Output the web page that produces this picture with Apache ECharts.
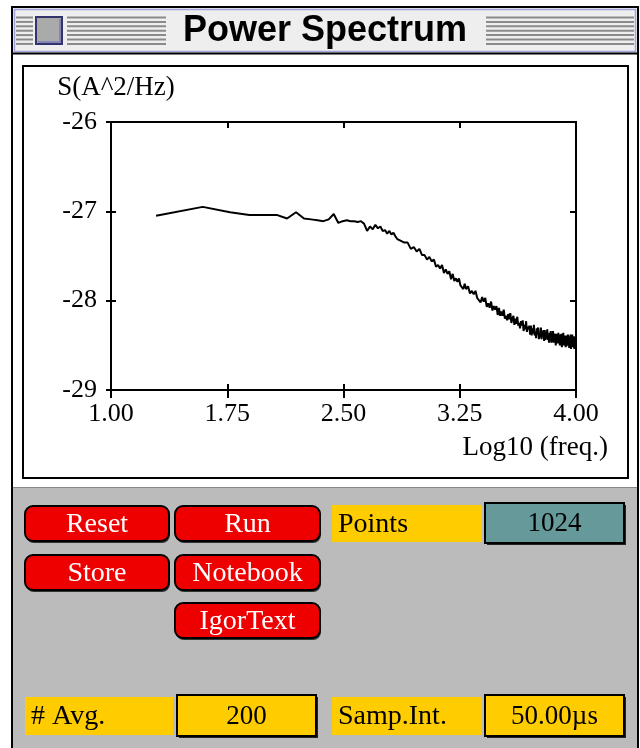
<!DOCTYPE html>
<html>
<head>
<meta charset="utf-8">
<script src="https://cdn.jsdelivr.net/npm/echarts@6/dist/echarts.min.js"></script>
<style>
  html, body { margin: 0; padding: 0; background: #fff; }
  #chart { width: 640px; height: 748px; }
</style>
</head>
<body>
<div id="chart"></div>
<script>
// ---- acquisition settings (shown in the panel) ----
const nPoints = 1024;
const sampInt = 50e-6;           // seconds
const nAvg = 200;

// ---- spectrum data: FFT bin index and log10 power ----
const lowBins = [1,2,3,4,5,6,7,8,9,10,11,12,13,14,15,16,17,18,19,20,
  21,22,23,24,25,26,27,28,29,30,31,32,33,34,35,36,37,38,39,40];
const lowPower = [-27.05,-26.95,-27.01,-27.04,-27.04,-27.04,-27.08,-27.01,-27.08,-27.09,
  -27.10,-27.11,-27.09,-27.03,-27.13,-27.11,-27.10,-27.11,-27.11,-27.12,
  -27.11,-27.14,-27.22,-27.17,-27.20,-27.15,-27.19,-27.17,-27.22,-27.21,
  -27.25,-27.22,-27.26,-27.24,-27.28,-27.31,-27.29,-27.33,-27.31,-27.35];

const midBins = [42,44,46,48,50,52,54,56,58,60,62,64,66,68,70,72,74,76,78,80,
  82,84,86,88,90,92,94,96,98,100];
const midPower = [-27.35,-27.42,-27.40,-27.45,-27.42,-27.49,-27.49,-27.54,-27.51,-27.56,
  -27.54,-27.62,-27.60,-27.64,-27.60,-27.69,-27.65,-27.70,-27.67,-27.76,
  -27.70,-27.78,-27.75,-27.79,-27.75,-27.83,-27.81,-27.87,-27.81,-27.87];

const upperBins = [103,106,109,112,115,118,121,124,127,130,133,136,139,142,145,148,151,154,
  157,160,163,166,169,172,175,178,181,184,187,190,193,196,199];
const upperPower = [-27.84,-27.92,-27.89,-27.93,-27.89,-27.97,-27.96,-28.02,-27.96,-28.01,
  -27.97,-28.07,-28.03,-28.08,-28.01,-28.11,-28.06,-28.10,-28.06,-28.16,
  -28.08,-28.17,-28.12,-28.17,-28.10,-28.20,-28.17,-28.22,-28.15,-28.21,
  -28.14,-28.25,-28.20];

const highBins = [202,205,208,211,214,217,220,223,226,229,232,235,238,241,244,247,250,253,256,259,
  262,265,268,271,274,277,280,283,286,289,292,295,298,301,304,307,310,313,316,319,
  322,325,328,331,334,337,340,343,346,349,352,355,358,361,364,367,370,373,376,379,
  382,385,388,391,394,397,400,403,406,409,412,415,418,421,424,427,430,433,436,439,
  442,445,448,451,454,457,460,463,466,469,472,475,478,481,484,487,490,493,496,499,
  502,505,508,511,512];
const highPower = [-28.17,-28.27,-28.20,-28.26,-28.18,-28.28,-28.25,-28.31,-28.23,-28.28,
  -28.22,-28.34,-28.27,-28.32,-28.23,-28.35,-28.29,-28.32,-28.28,-28.38,
  -28.28,-28.39,-28.31,-28.37,-28.27,-28.39,-28.35,-28.42,-28.31,-28.38,
  -28.30,-28.43,-28.36,-28.41,-28.30,-28.43,-28.34,-28.39,-28.33,-28.45,
  -28.33,-28.44,-28.37,-28.42,-28.32,-28.44,-28.39,-28.47,-28.36,-28.42,
  -28.34,-28.47,-28.40,-28.45,-28.34,-28.47,-28.38,-28.42,-28.37,-28.50,
  -28.37,-28.48,-28.40,-28.45,-28.36,-28.48,-28.43,-28.50,-28.38,-28.45,
  -28.37,-28.52,-28.43,-28.48,-28.36,-28.50,-28.41,-28.45,-28.39,-28.52,
  -28.39,-28.51,-28.43,-28.48,-28.38,-28.50,-28.45,-28.53,-28.40,-28.47,
  -28.38,-28.54,-28.45,-28.51,-28.38,-28.52,-28.43,-28.48,-28.40,-28.54,
  -28.41,-28.54,-28.45,-28.51,-28.44];

// ---- axes ----
const xTicks = [1.00, 1.75, 2.50, 3.25, 4.00];
const yTicks = [-29, -28, -27, -26];
const xTitle = 'Log10 (freq.)';
const yTitle = 'S(A^2/Hz)';
const windowTitle = 'Power Spectrum';

// ---- panel texts ----
const buttonLabels = ['Reset', 'Run', 'Store', 'Notebook', 'IgorText'];
const fieldLabels = ['Points', '# Avg.', 'Samp.Int.'];
const fieldValues = [String(nPoints), String(nAvg), (sampInt * 1e6).toFixed(2) + '\u00B5s'];

// build series pairs
const binFreq = (k) => Math.log10(k / (nPoints * sampInt));
const allBins = lowBins.concat(midBins, upperBins, highBins);
const allPower = lowPower.concat(midPower, upperPower, highPower);
const spectrum = allBins.map((k, i) => [binFreq(k), allPower[i]]);

const serif = "'Liberation Serif', 'DejaVu Serif', serif";
const black = '#000';

// ---- window chrome (graphic) ----
const g = [];
const Z = -10;
function rect(x, y, w, h, style, r) {
  g.push({ type: 'rect', z: Z, silent: true, shape: { x, y, width: w, height: h, r: r || 0 }, style });
}
function line(x1, y1, x2, y2, stroke, lw) {
  g.push({ type: 'line', z: Z, silent: true, shape: { x1, y1, x2, y2 }, style: { stroke, lineWidth: lw } });
}
function text(t, x, y, font, fill, align) {
  g.push({ type: 'text', z: Z, silent: true, style: { text: t, x, y, font, fill, align: align || 'center', verticalAlign: 'middle' } });
}
// title bar
rect(13, 8, 624, 45, { fill: '#eeeeee' });
rect(14.5, 9.5, 621, 42, { fill: 'none', stroke: '#a3a3dc', lineWidth: 1.5 });
for (let i = 0; i < 7; i++) {
  const yy = 17.5 + i * 4.4;
  line(16, yy, 33, yy, '#8a8a8a', 2);
  line(67, yy, 166, yy, '#8a8a8a', 2);
  line(486, yy, 634, yy, '#8a8a8a', 2);
}
rect(36, 17, 26, 27, { fill: '#aaaaaa', stroke: '#33336e', lineWidth: 2 });
line(38, 42, 61, 42, '#7a7ab8', 1.5);
line(60, 19, 60, 42, '#7a7ab8', 1.5);
text(windowTitle, 325, 31, "bold 36px 'Liberation Sans', Arial, sans-serif", black);
line(12, 53.5, 638, 53.5, black, 2);
// content + panel
rect(13, 55, 624, 432, { fill: '#ffffff' });
rect(13, 487, 624, 263, { fill: '#bbbbbb' });
line(13, 487.5, 637, 487.5, '#888888', 1);
rect(23, 66, 605, 412, { fill: 'none', stroke: black, lineWidth: 2 });
// outer window border
rect(12, 7, 626, 760, { fill: 'none', stroke: black, lineWidth: 2 });

// buttons
const btnFont = "28px " + serif;
const btnBoxes = [[25, 506, 144, 35], [175, 506, 145, 35], [25, 555, 144, 35], [175, 555, 145, 35], [175, 603, 145, 35]];
buttonLabels.forEach((lab, i) => {
  const [x, y, w, h] = btnBoxes[i];
  rect(x + 1, y + 2, w, h, { fill: '#333333' }, 8);
  rect(x, y, w, h, { fill: '#ee0000', stroke: black, lineWidth: 2 }, 8);
  text(lab, x + w / 2, y + h / 2 + 1, btnFont, '#ffffff');
});
// labelled fields
const labBoxes = [[332, 505, 150, 37], [25, 697, 148, 38], [332, 697, 150, 38]];
const valBoxes = [[485, 503, 139, 40], [177, 695, 139, 41], [485, 695, 139, 41]];
const valFills = ['#669999', '#ffcc00', '#ffcc00'];
fieldLabels.forEach((lab, i) => {
  const [x, y, w, h] = labBoxes[i];
  rect(x, y, w, h, { fill: '#ffcc00' });
  text(lab, x + 6, y + h / 2 + 1, btnFont, black, 'left');
  const [vx, vy, vw, vh] = valBoxes[i];
  rect(vx + 2, vy + 2, vw, vh, { fill: '#222222' });
  rect(vx, vy, vw, vh, { fill: valFills[i], stroke: black, lineWidth: 2 });
  text(fieldValues[i], vx + vw / 2, vy + vh / 2 + 1, "27px " + serif, black);
});

const tickStyle = { color: black, width: 2 };
const labelStyle = { color: black, fontFamily: serif, fontSize: 26 };

const option = {
  animation: false,
  backgroundColor: '#ffffff',
  graphic: { elements: g },
  grid: {
    left: 111, top: 122, width: 465, height: 268,
    show: true, borderColor: black, borderWidth: 2, backgroundColor: 'transparent',
    containLabel: false
  },
  xAxis: [
    {
      type: 'value', min: xTicks[0], max: xTicks[xTicks.length - 1], interval: xTicks[1] - xTicks[0],
      position: 'bottom', offset: -6,
      axisLine: { show: false },
      axisTick: { show: true, inside: false, length: 14, lineStyle: tickStyle },
      axisLabel: Object.assign({ margin: 17, formatter: (v) => v.toFixed(2) }, labelStyle),
      splitLine: { show: false },
      name: xTitle, nameLocation: 'end', nameGap: 32,
      nameTextStyle: { color: black, fontFamily: serif, fontSize: 27, align: 'right', verticalAlign: 'top', padding: [50, 0, 0, 0] }
    },
    {
      type: 'value', min: xTicks[0], max: xTicks[xTicks.length - 1], interval: xTicks[1] - xTicks[0],
      position: 'top',
      axisLine: { show: false },
      axisTick: { show: true, inside: true, length: 6, lineStyle: tickStyle },
      axisLabel: { show: false },
      splitLine: { show: false }
    }
  ],
  yAxis: [
    {
      type: 'value', min: yTicks[0], max: yTicks[yTicks.length - 1], interval: yTicks[1] - yTicks[0],
      position: 'left', offset: -5,
      axisLine: { show: false },
      axisTick: { show: true, inside: false, length: 10, lineStyle: tickStyle },
      axisLabel: Object.assign({ margin: 19, formatter: (v) => String(v) }, labelStyle),
      splitLine: { show: false },
      name: yTitle, nameLocation: 'end', nameGap: 34,
      nameTextStyle: { color: black, fontFamily: serif, fontSize: 27, align: 'center', verticalAlign: 'middle' }
    },
    {
      type: 'value', min: yTicks[0], max: yTicks[yTicks.length - 1], interval: yTicks[1] - yTicks[0],
      position: 'right',
      axisLine: { show: false },
      axisTick: { show: true, inside: true, length: 6, lineStyle: tickStyle },
      axisLabel: { show: false },
      splitLine: { show: false }
    }
  ],
  series: [{
    type: 'line',
    name: 'Power spectrum',
    xAxisIndex: 0, yAxisIndex: 0,
    data: spectrum,
    showSymbol: false,
    symbol: 'none',
    lineStyle: { color: black, width: 2 },
    silent: true
  }]
};

const chart = echarts.init(document.getElementById('chart'), null, { renderer: 'canvas', width: 640, height: 748 });
chart.setOption(option);
</script>
</body>
</html>
